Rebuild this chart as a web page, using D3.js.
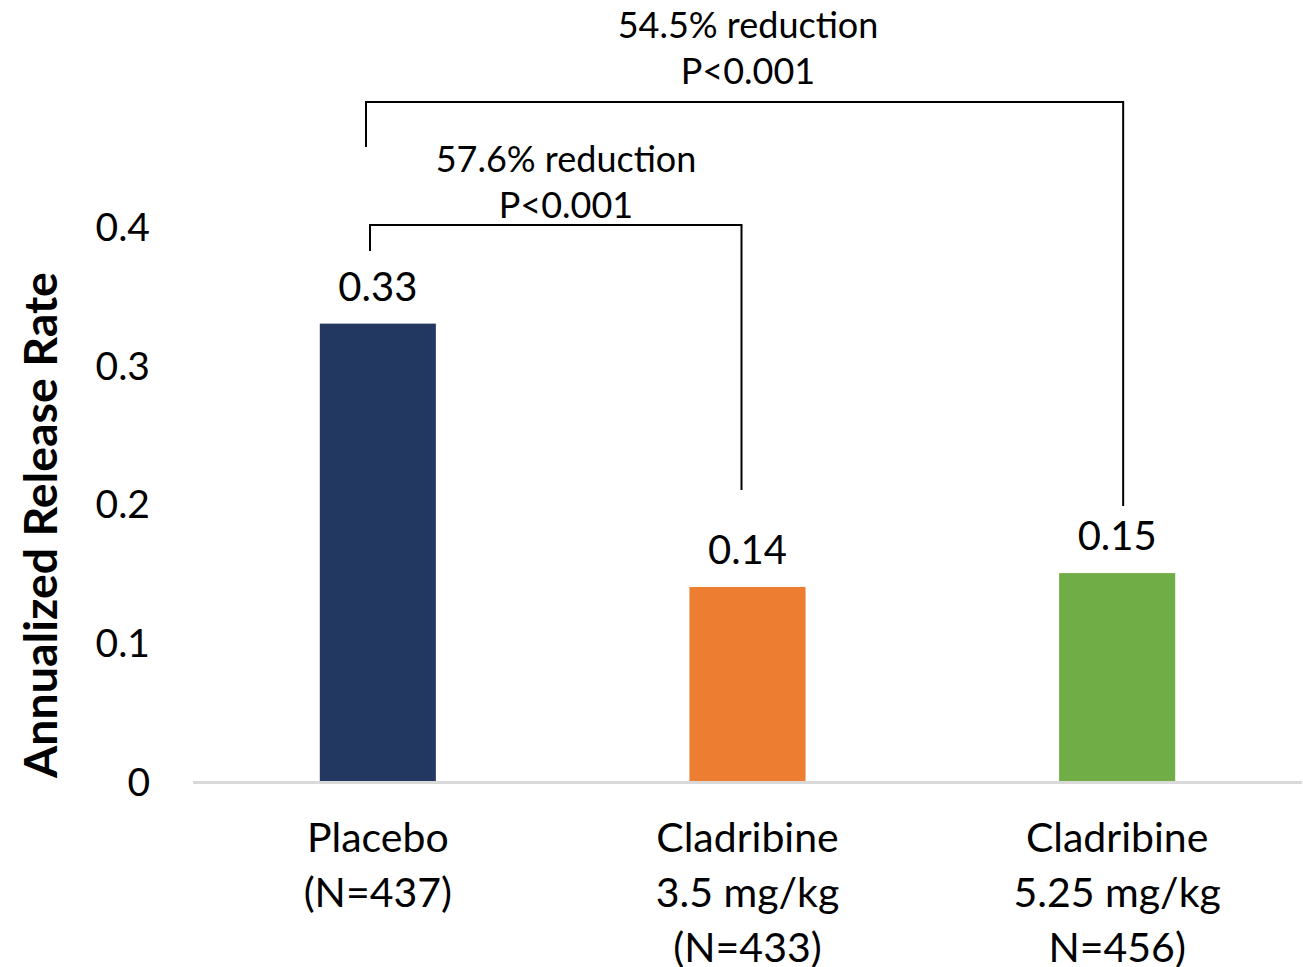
<!DOCTYPE html>
<html>
<head>
<meta charset="utf-8">
<script src="https://cdn.jsdelivr.net/npm/d3@7"></script>
<style>
  html, body { margin: 0; padding: 0; background: #fff; }
  svg { display: block; }
  text { font-family: Lato, "Open Sans", sans-serif; fill: #000; }
</style>
</head>
<body>
<svg id="chart" width="1303" height="967"></svg>
<script>
// Treatment groups and their annualized relapse rates
const categories = ["Placebo", "Cladribine 3.5", "Cladribine 5.25"];
const categoryLabels = [
  ["Placebo", "(N=437)"],
  ["Cladribine", "3.5 mg/kg", "(N=433)"],
  ["Cladribine", "5.25 mg/kg", "N=456)"]
];
const rates = [0.33, 0.14, 0.15];
const rateLabels = ["0.33", "0.14", "0.15"];
const barColors = ["#223861", "#ed7d31", "#70ad47"];
const yTicks = [0, 0.1, 0.2, 0.3, 0.4];

// Pairwise comparisons drawn as brackets above the bars
const comparisons = [
  { from: "Placebo", to: "Cladribine 3.5", text: ["57.6% reduction", "P<0.001"] },
  { from: "Placebo", to: "Cladribine 5.25", text: ["54.5% reduction", "P<0.001"] }
];

const svg = d3.select("#chart");
const plotLeft = 193, plotRight = 1302, baseY = 781;

const x = d3.scaleBand().domain(categories).range([plotLeft, plotRight]).paddingInner(0.686).paddingOuter(0.343);
const y = d3.scaleLinear().domain([0, 0.4]).range([baseY, baseY - 554.4]);

// Y tick labels (no axis line, no tick marks)
const yAxis = d3.axisLeft(y).tickValues(yTicks).tickFormat(d => d === 0 ? "0" : d3.format(".1f")(d)).tickSize(0).tickPadding(0);
const yg = svg.append("g").attr("transform", "translate(150,0)").call(yAxis);
yg.select(".domain").remove();
yg.selectAll("text").style("font-family", "Lato, sans-serif").style("font-size", "39px").attr("fill", "#000").attr("dy", "0.36em");

// Y axis title
svg.append("text")
  .attr("transform", `translate(57,${525}) rotate(-90)`)
  .attr("text-anchor", "middle")
  .style("font-size", "46.5px")
  .style("font-weight", "bold")
  .text("Annualized Release Rate");

// Bars
svg.selectAll("rect.bar")
  .data(categories)
  .join("rect")
  .attr("class", "bar")
  .attr("x", d => x(d))
  .attr("width", x.bandwidth())
  .attr("y", (d, i) => y(rates[i]))
  .attr("height", (d, i) => y(0) - y(rates[i]))
  .attr("fill", (d, i) => barColors[i]);

// Baseline
svg.append("line")
  .attr("x1", plotLeft).attr("x2", plotRight)
  .attr("y1", baseY + 1.5).attr("y2", baseY + 1.5)
  .attr("stroke", "#d9d9d9").attr("stroke-width", 3);

// Value labels above bars
svg.selectAll("text.value")
  .data(categories)
  .join("text")
  .attr("class", "value")
  .attr("x", d => x(d) + x.bandwidth() / 2)
  .attr("y", (d, i) => y(rates[i]) - 23)
  .attr("text-anchor", "middle")
  .style("font-size", "40px")
  .text((d, i) => rateLabels[i]);

// Category labels
categories.forEach((c, i) => {
  const t = svg.append("text")
    .attr("x", x(c) + x.bandwidth() / 2)
    .attr("y", 852)
    .attr("text-anchor", "middle")
    .style("font-size", "41px");
  categoryLabels[i].forEach((line, j) => {
    t.append("tspan")
      .attr("x", x(c) + x.bandwidth() / 2)
      .attr("dy", j === 0 ? 0 : 55)
      .text(line);
  });
});

// Comparison brackets
const bracketSpec = [
  { top: 225, leftBottom: 251, rightBottom: 490, leftX: 370, rightOffset: -6, textX: 566, textY: 172 },
  { top: 102, leftBottom: 147, rightBottom: 506, leftX: 366, rightOffset: 6, textX: 748, textY: 38 }
];
comparisons.forEach((cmp, i) => {
  const s = bracketSpec[i];
  const rx = x(cmp.to) + x.bandwidth() / 2 + s.rightOffset;
  svg.append("path")
    .attr("d", `M${s.leftX},${s.leftBottom}V${s.top}H${rx}V${s.rightBottom}`)
    .attr("fill", "none")
    .attr("stroke", "#000")
    .attr("stroke-width", 2);
  cmp.text.forEach((line, j) => {
    svg.append("text")
      .attr("x", s.textX)
      .attr("y", s.textY + j * 46)
      .attr("text-anchor", "middle")
      .style("font-size", "36px")
      .text(line);
  });
});
</script>
</body>
</html>
